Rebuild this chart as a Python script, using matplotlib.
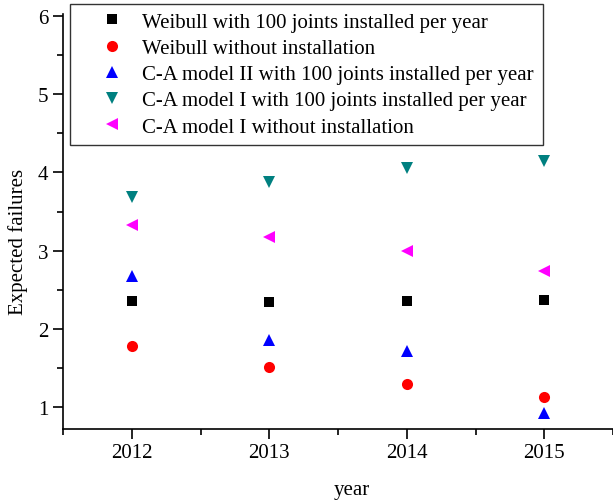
import matplotlib.pyplot as plt
from matplotlib.ticker import MultipleLocator

plt.rcParams['font.family'] = ['Liberation Serif', 'DejaVu Serif']

years = [2012, 2013, 2014, 2015]

weibull_install = [2.36, 2.35, 2.36, 2.37]
weibull_no_install = [1.79, 1.52, 1.30, 1.13]
ca2_install = [2.68, 1.86, 1.72, 0.93]
ca1_install = [3.68, 3.88, 4.06, 4.15]
ca1_no_install = [3.33, 3.18, 3.00, 2.74]

series = [
    (weibull_install, 's', 'black', 7, 'Weibull with 100 joints installed per year'),
    (weibull_no_install, 'o', 'red', 8, 'Weibull without installation'),
    (ca2_install, '^', 'blue', 8, 'C-A model II with 100 joints installed per year'),
    (ca1_install, 'v', 'teal', 8, 'C-A model I with 100 joints installed per year'),
    (ca1_no_install, '<', 'magenta', 8, 'C-A model I without installation'),
]

fig = plt.figure(figsize=(6.13, 5.02), dpi=100)
ax = fig.add_axes([63 / 613, 1 - 430 / 502, 550 / 613, 415 / 502])

for vals, marker, color, ms, label in series:
    ax.plot(years, vals, linestyle='none', marker=marker, color=color,
            markersize=ms, markeredgewidth=0, label=label)

ax.set_xlim(2011.5, 2015.5)
ax.set_ylim(0.725, 6.02)
ax.xaxis.set_minor_locator(MultipleLocator(0.5))
ax.yaxis.set_major_locator(MultipleLocator(1))
ax.yaxis.set_minor_locator(MultipleLocator(0.5))
ax.set_xticks(years)
ax.set_xticklabels([str(y) for y in years])

for side in ['top', 'right']:
    ax.spines[side].set_visible(False)
for side in ['left', 'bottom']:
    ax.spines[side].set_linewidth(1.2)

ax.tick_params(which='major', direction='out', length=7, width=1.2, labelsize=15)
ax.tick_params(which='minor', direction='out', length=4, width=1.2)
ax.tick_params(axis='x', pad=3)

ax.set_xlabel('year', fontsize=15)
ax.xaxis.set_label_coords((352 - 63) / 550, -(481 - 430) / 415)
ax.set_ylabel('Expected failures', fontsize=15)
ax.yaxis.set_label_coords(-(63 - 28) / 550, (430 - 242) / 415)

# legend box spans a fixed width, entries stay left-aligned
leg = ax.legend(loc='upper left', mode='expand',
                bbox_to_anchor=(7 / 550, 1.0 + 10 / 415, (543 - 70) / 550, 0),
                fontsize=15, frameon=True, fancybox=False, edgecolor='black',
                borderpad=0.39, labelspacing=0.32, handletextpad=-0.19,
                handlelength=3.26, borderaxespad=0)
leg.get_frame().set_linewidth(1.0)

fig.savefig('out.png', dpi=100)
